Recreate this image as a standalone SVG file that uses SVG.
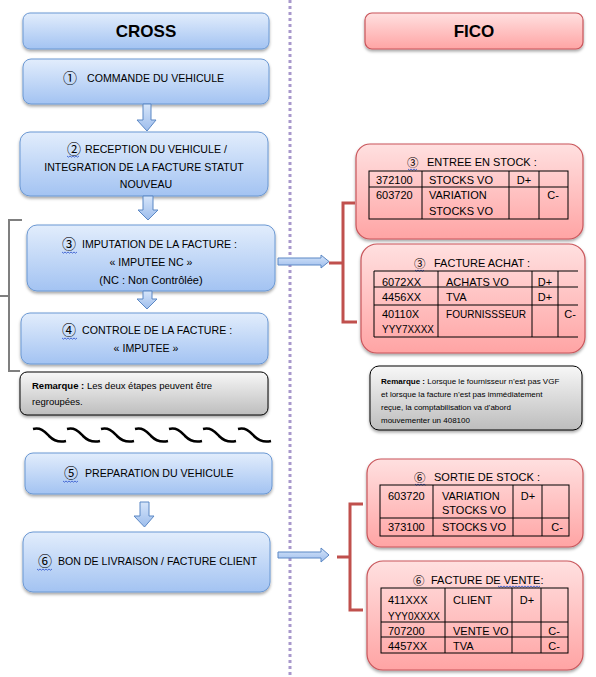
<svg xmlns="http://www.w3.org/2000/svg" width="596" height="677" viewBox="0 0 596 677">
<defs>
<linearGradient id="gb" x1="0" y1="0" x2="0" y2="1"><stop offset="0" stop-color="#e2edfc"/><stop offset="1" stop-color="#a3c3f2"/></linearGradient>
<linearGradient id="gr" x1="0" y1="0" x2="0" y2="1"><stop offset="0" stop-color="#ffe0e0"/><stop offset="1" stop-color="#ffa4a4"/></linearGradient>
<linearGradient id="gg" x1="0" y1="0" x2="0" y2="1"><stop offset="0" stop-color="#f7f7f7"/><stop offset="1" stop-color="#bdbdbd"/></linearGradient>
<linearGradient id="ga" x1="0" y1="0" x2="0" y2="1"><stop offset="0" stop-color="#d6e5fa"/><stop offset="1" stop-color="#9dbdec"/></linearGradient>
<filter id="sh" x="-10%" y="-10%" width="120%" height="130%"><feDropShadow dx="0" dy="2" stdDeviation="1.6" flood-color="#000" flood-opacity="0.35"/></filter>
</defs>
<style>
text{font-family:"Liberation Sans","DejaVu Sans",sans-serif;fill:#000}
.bb{fill:url(#gb);stroke:#6b98d3;stroke-width:1}
.rb{fill:url(#gr);stroke:#c9555a;stroke-width:1.2}
.gb{fill:url(#gg);stroke:#000;stroke-width:1}
.t{font-size:10.6px}
.m{text-anchor:middle}
.n{font-family:"Noto Sans CJK JP","Noto Sans CJK SC","DejaVu Sans",sans-serif;font-size:14px}
.nr{font-family:"Noto Sans CJK JP","Noto Sans CJK SC","DejaVu Sans",sans-serif;font-size:11.5px}
.h{font-size:17px;font-weight:bold;text-anchor:middle}
.s{font-size:11px}
.c{font-size:11px;text-anchor:middle}
.tb{fill:none;stroke:#000;stroke-width:1}
.arr{fill:url(#ga);stroke:#5b87c4;stroke-width:1}
.sq{fill:none;stroke:#3a5fd0;stroke-width:0.9}
.br{fill:none;stroke:#c0504d;stroke-width:3}
.bg{fill:none;stroke:#7f7f7f;stroke-width:2}
.wv{fill:none;stroke:#000;stroke-width:2.5}
</style>

<line x1="290" y1="0" x2="290" y2="677" stroke="#a898cc" stroke-width="3" stroke-dasharray="3 3"/>

<g id="cross-header"><rect class="bb" x="23" y="13" width="246" height="36" rx="7" filter="url(#sh)"/><text class="h" x="146" y="37">CROSS</text></g>
<g id="fico-header"><rect class="rb" x="365" y="13" width="218" height="36" rx="7" filter="url(#sh)"/><text class="h" x="474" y="37">FICO</text></g>

<g id="step1"><rect class="bb" x="23" y="59" width="246" height="45" rx="8" filter="url(#sh)"/>
<text class="n" x="63" y="83">①</text><text class="t" x="87" y="82">COMMANDE DU VEHICULE</text></g>

<g id="step2"><rect class="bb" x="20" y="132" width="248" height="64" rx="10" filter="url(#sh)"/>
<text class="n" x="67" y="154">②</text><text class="t" x="85" y="153">RECEPTION DU VEHICULE /</text>
<text class="t m" x="144" y="171">INTEGRATION DE LA FACTURE STATUT</text>
<text class="t m" x="146" y="188">NOUVEAU</text>
<path class="sq" d="M67,156 l1.5,1.2 1.5,-1.2 1.5,1.2 1.5,-1.2 1.5,1.2 1.5,-1.2 1.5,1.2 1.5,-1.2"/></g>

<g id="step3"><rect class="bb" x="27" y="225" width="248" height="66" rx="10" filter="url(#sh)"/>
<text class="n" x="62" y="249">③</text><text class="t" x="82" y="248">IMPUTATION DE LA FACTURE :</text>
<text class="t m" x="151" y="266">« IMPUTEE NC »</text>
<text class="m" x="151" y="284" style="font-size:11px">(NC : Non Contrôlée)</text>
<path class="sq" d="M62,252 l1.5,1.2 1.5,-1.2 1.5,1.2 1.5,-1.2 1.5,1.2 1.5,-1.2 1.5,1.2 1.5,-1.2 1.5,1.2 1.5,-1.2"/></g>

<g id="step4"><rect class="bb" x="21" y="313" width="247" height="51" rx="9" filter="url(#sh)"/>
<text class="n" x="62" y="335">④</text><text class="t" x="82" y="334">CONTROLE DE LA FACTURE :</text>
<text class="t m" x="146" y="352">« IMPUTEE »</text>
<path class="sq" d="M62,338 l1.5,1.2 1.5,-1.2 1.5,1.2 1.5,-1.2 1.5,1.2 1.5,-1.2 1.5,1.2 1.5,-1.2 1.5,1.2 1.5,-1.2"/></g>

<g id="remark-cross"><rect class="gb" x="20" y="372" width="248" height="43" rx="7" filter="url(#sh)"/>
<text x="32" y="389" style="font-size:9.5px"><tspan font-weight="bold">Remarque :</tspan> Les deux étapes peuvent être</text>
<text x="32" y="405" style="font-size:9.5px">regroupées.</text></g>

<g id="waves">
<path class="wv" d="M33,429 C41,427 45,432 49,436 S58,443 66,441"/>
<path class="wv" d="M67,429 C75,427 79,432 83,436 S92,443 100,441"/>
<path class="wv" d="M101,429 C109,427 113,432 117,436 S126,443 134,441"/>
<path class="wv" d="M135,429 C143,427 147,432 151,436 S160,443 168,441"/>
<path class="wv" d="M169,429 C177,427 181,432 185,436 S194,443 202,441"/>
<path class="wv" d="M203,429 C211,427 215,432 219,436 S228,443 236,441"/>
<path class="wv" d="M238,429 C246,427 250,432 254,436 S263,443 271,441"/>
</g>

<g id="step5"><rect class="bb" x="25" y="453" width="247" height="41" rx="8" filter="url(#sh)"/>
<text class="n" x="64" y="478">⑤</text><text class="t" x="85" y="477">PREPARATION DU VEHICULE</text>
<path class="sq" d="M63,481 l1.5,1.2 1.5,-1.2 1.5,1.2 1.5,-1.2 1.5,1.2 1.5,-1.2 1.5,1.2 1.5,-1.2 1.5,1.2 1.5,-1.2"/></g>

<g id="step6"><rect class="bb" x="23" y="532" width="247" height="60" rx="10" filter="url(#sh)"/>
<text class="n" x="38" y="566">⑥</text><text class="t" x="58" y="565">BON DE LIVRAISON / FACTURE CLIENT</text>
<path class="sq" d="M37,569 l1.5,1.2 1.5,-1.2 1.5,1.2 1.5,-1.2 1.5,1.2 1.5,-1.2 1.5,1.2 1.5,-1.2 1.5,1.2 1.5,-1.2"/></g>

<g id="entree-stock"><rect class="rb" x="356" y="144" width="227" height="95" rx="14" filter="url(#sh)"/>
<text class="nr" x="407" y="167">③</text><text class="s" x="427" y="166">ENTREE EN STOCK :</text>
<path class="sq" d="M408,169 l1.5,1.2 1.5,-1.2 1.5,1.2 1.5,-1.2 1.5,1.2 1.5,-1.2"/>
<rect class="tb" x="369" y="171" width="199" height="48"/>
<path class="tb" d="M369,187 H568 M422,171 V219 M509,171 V219 M539,171 V219"/>
<text class="s" x="376" y="184">372100</text><text class="s" x="429" y="184">STOCKS VO</text><text class="c" x="524" y="184">D+</text>
<text class="s" x="376" y="199">603720</text><text class="s" x="429" y="199">VARIATION</text><text class="s" x="429" y="215">STOCKS VO</text><text class="c" x="553" y="199">C-</text>
</g>

<g id="facture-achat"><rect class="rb" x="361" y="244" width="224" height="109" rx="16" filter="url(#sh)"/>
<text class="nr" x="414" y="268">③</text><text class="s" x="434" y="267">FACTURE ACHAT :</text>
<path class="sq" d="M415,270 l1.5,1.2 1.5,-1.2 1.5,1.2 1.5,-1.2 1.5,1.2 1.5,-1.2"/>
<path class="tb" d="M374,271 H578 M374,287 H578 M374,305 H578 M374,337 H578 M374,271 V337 M438,271 V337 M532,271 V337 M558,271 V337"/>
<text class="s" x="382" y="286">6072XX</text><text class="s" x="446" y="286">ACHATS  VO</text><text class="c" x="545" y="286">D+</text>
<text class="s" x="382" y="301">4456XX</text><text class="s" x="446" y="301">TVA</text><text class="c" x="545" y="301">D+</text>
<text class="s" x="382" y="318">40110X</text><text class="s" x="382" y="333" textLength="52" lengthAdjust="spacingAndGlyphs">YYY7XXXX</text><text class="s" x="446" y="318" textLength="80" lengthAdjust="spacingAndGlyphs">FOURNISSSEUR</text><text class="c" x="570" y="318">C-</text>
</g>

<g id="remark-fico"><rect class="gb" x="370" y="366" width="212" height="64" rx="9" filter="url(#sh)"/>
<text x="381" y="384" style="font-size:8px"><tspan font-weight="bold">Remarque :</tspan> Lorsque le fournisseur n’est pas VGF</text>
<text x="381" y="397" style="font-size:8px">et lorsque la facture n’est pas immédiatement</text>
<text x="381" y="410" style="font-size:8px">reçue, la comptabilisation va d’abord</text>
<text x="381" y="423" style="font-size:8px">mouvementer un 408100</text></g>

<g id="sortie-stock"><rect class="rb" x="367" y="459" width="216" height="88" rx="14" filter="url(#sh)"/>
<text class="nr" x="414" y="482">⑥</text><text class="s" x="434" y="481">SORTIE DE STOCK :</text>
<path class="sq" d="M415,484 l1.5,1.2 1.5,-1.2 1.5,1.2 1.5,-1.2 1.5,1.2 1.5,-1.2 1.5,1.2"/>
<rect class="tb" x="380" y="485" width="189" height="51"/>
<path class="tb" d="M380,518 H569 M433,485 V536 M513,485 V536 M542,485 V536"/>
<text class="s" x="388" y="500">603720</text><text class="s" x="442" y="500">VARIATION</text><text class="s" x="442" y="514">STOCKS VO</text><text class="c" x="528" y="500">D+</text>
<text class="s" x="388" y="531">373100</text><text class="s" x="442" y="531">STOCKS VO</text><text class="c" x="557" y="531">C-</text>
</g>

<g id="facture-vente"><rect class="rb" x="367" y="561" width="216" height="109" rx="16" filter="url(#sh)"/>
<text class="nr" x="413" y="585">⑥</text><text class="s" x="431" y="584">FACTURE DE VENTE:</text>
<path class="sq" d="M498,586 l1.5,1.2 1.5,-1.2 1.5,1.2 1.5,-1.2 1.5,1.2 1.5,-1.2 1.5,1.2 1.5,-1.2 1.5,1.2 1.5,-1.2 1.5,1.2 1.5,-1.2 1.5,1.2 1.5,-1.2 1.5,1.2 1.5,-1.2 1.5,1.2 1.5,-1.2 1.5,1.2 1.5,-1.2 1.5,1.2 1.5,-1.2 1.5,1.2 1.5,-1.2 1.5,1.2 1.5,-1.2 1.5,1.2 1.5,-1.2"/>
<rect class="tb" x="381" y="588" width="187" height="65"/>
<path class="tb" d="M381,622 H568 M381,637 H568 M445,588 V653 M512,588 V653 M541,588 V653"/>
<text class="s" x="388" y="604">411XXX</text><text class="s" x="388" y="620" textLength="52" lengthAdjust="spacingAndGlyphs">YYY0XXXX</text><text class="s" x="453" y="604">CLIENT</text><text class="c" x="527" y="604">D+</text>
<text class="s" x="388" y="635">707200</text><text class="s" x="453" y="635">VENTE VO</text><text class="c" x="554" y="635">C-</text>
<text class="s" x="388" y="650">4457XX</text><text class="s" x="453" y="650">TVA</text><text class="c" x="554" y="650">C-</text>
</g>

<g id="connectors">
<path class="arr" d="M143,104 H151 V120 H156 L147,131 L137,120 H143 Z"/>
<path class="arr" d="M143,196 H153 V210 H158 L148,220 L138,210 H143 Z"/>
<path class="arr" d="M143,291 H152 V299 H157 L147,309 L137,299 H143 Z"/>
<path class="arr" d="M140,502 H149 V516 H154 L144.5,527 L134,516 H140 Z"/>
<path class="arr" d="M278,258 H321 V255 L329,261.5 L321,268 V265 H278 Z"/>
<path class="arr" d="M278,552 H321 V548 L329,555 L321,562 V558 H278 Z"/>
<path class="bg" d="M22,220 H9 V371 H20 M9,296 H0"/>
<path class="br" d="M355,203 H343 V322 H357 M343,263 H329"/>
<path class="br" d="M363,504 H350 V610 H363 M350,557 H337"/>
</g>
</svg>
